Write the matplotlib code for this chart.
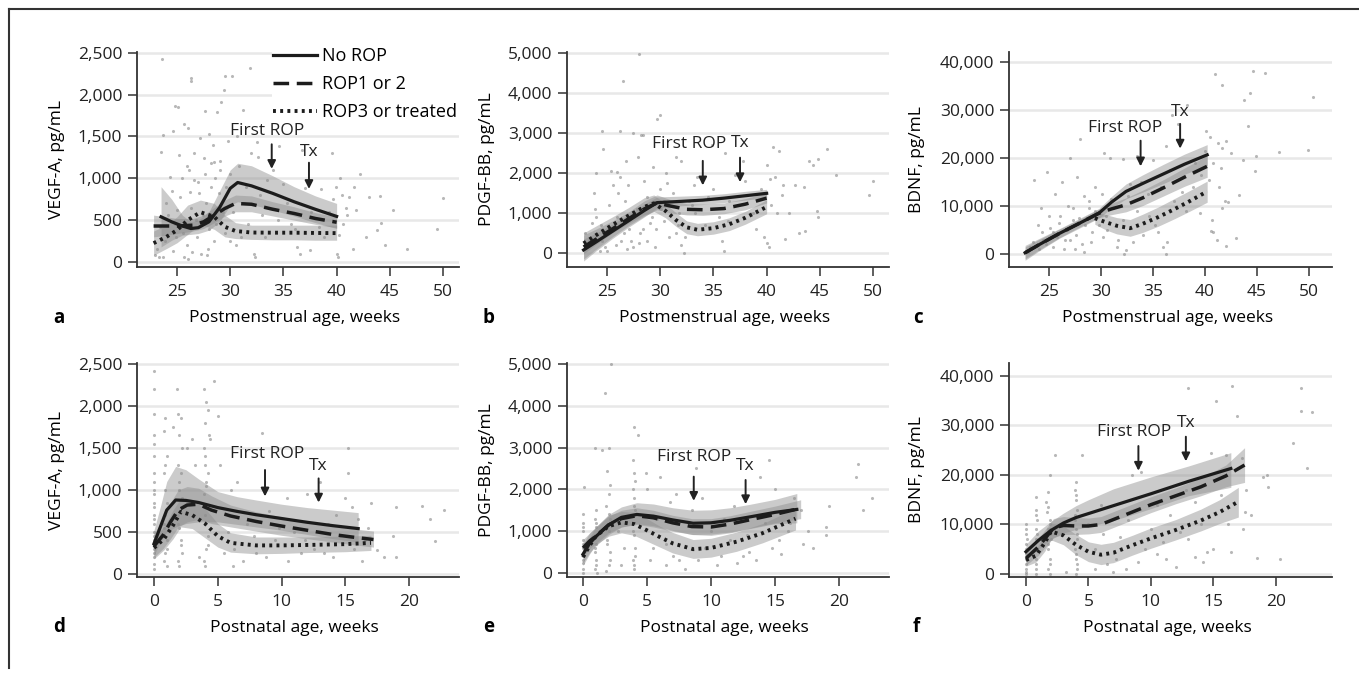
import matplotlib
matplotlib.use('Agg')
import matplotlib.pyplot as plt
from matplotlib.lines import Line2D
from matplotlib.ticker import FuncFormatter

plt.rcParams['font.family'] = ['Open Sans', 'DejaVu Sans']
plt.rcParams['font.size'] = 12.5

# ---- panel a: VEGF-A vs postmenstrual age ----
a_norop_x = [23.5, 24.5, 25.5, 26.3, 27.0, 28.0, 29.0, 30.0, 30.7, 32.0, 34.0, 36.0, 38.0, 40.0]
a_norop_y = [540, 480, 430, 400, 410, 480, 650, 880, 950, 910, 820, 720, 630, 545]
a_norop_lo = [180, 260, 320, 330, 340, 380, 480, 680, 720, 690, 620, 550, 470, 400]
a_norop_hi = [900, 750, 560, 480, 500, 600, 850, 1100, 1180, 1150, 1030, 900, 790, 700]
a_rop12_x = [22.8, 24.0, 25.0, 26.5, 27.5, 28.5, 29.5, 30.5, 32.0, 34.0, 36.0, 38.0, 40.0]
a_rop12_y = [430, 430, 430, 440, 480, 560, 640, 700, 690, 630, 580, 520, 475]
a_rop12_lo = [300, 320, 340, 370, 400, 470, 550, 600, 600, 550, 500, 450, 410]
a_rop12_hi = [560, 540, 520, 520, 560, 650, 740, 800, 790, 720, 660, 590, 540]
a_rop3_x = [22.8, 24.0, 25.0, 26.0, 27.2, 28.5, 29.5, 30.5, 32.0, 34.0, 36.0, 38.0, 40.0]
a_rop3_y = [225, 300, 380, 500, 595, 540, 420, 370, 352, 350, 350, 347, 345]
a_rop3_lo = [80, 160, 230, 330, 450, 390, 300, 280, 270, 265, 265, 260, 260]
a_rop3_hi = [370, 440, 540, 680, 740, 700, 560, 470, 440, 440, 440, 440, 440]
a_pts_x = [23.6, 26.3, 26.3, 29.5, 30.2, 31.9, 29.4, 24.8, 25.1, 29.1, 27.6, 28.8, 31.2, 23.7, 23.5, 25.7,
           26.0, 24.6, 27.2, 28.0, 28.4, 29.8, 30.6, 32.5, 34.6, 36.7, 39.6, 25.2, 26.6, 27.5, 28.2, 29.0,
           26.1, 24.3, 25.5, 27.0, 28.6, 30.0, 31.5, 33.5, 35.0, 37.0, 38.5, 39.9, 40.5, 41.2, 42.2, 43.0,
           44.1, 45.3, 46.6, 49.4, 50.0, 44.2, 44.5, 42.8, 43.8, 41.0, 41.5, 40.2, 40.0, 40.1, 36.3, 36.6,
           37.5, 32.2, 32.3, 30.5, 31.0, 27.3, 27.8, 26.4, 25.7, 23.3, 23.7, 24.6, 28.5, 29.5, 26.8, 24.0,
           25.0, 27.7, 28.9, 26.2, 33.0, 34.5, 35.7, 38.3, 39.3, 32.6, 41.8, 40.6, 22.9, 24.9, 28.0, 25.9,
           23.4, 23.9, 24.2, 24.5, 24.8, 25.3, 25.6, 25.9, 26.3, 26.6, 26.9, 27.1, 27.4, 27.6, 27.9, 28.2,
           28.5, 28.7, 29.0, 29.3, 29.6, 30.0, 30.3, 30.8, 31.3, 31.7, 32.0, 32.8, 33.3, 34.0, 35.3, 36.1,
           37.6, 38.8, 39.7, 40.3, 40.9, 41.6, 23.1, 26.0]
a_pts_y = [2430, 2200, 2160, 2220, 2220, 2320, 2060, 1870, 1850, 1910, 1800, 1790, 1820, 1520, 1320, 1650,
           1600, 1560, 1480, 1530, 1400, 1450, 1500, 1430, 1390, 1340, 1300, 1280, 1300, 1240, 1180, 1210,
           1100, 1020, 1000, 960, 1000, 1050, 900, 980, 930, 880, 870, 900, 800, 780, 1050, 780,
           790, 620, 150, 390, 760, 470, 200, 300, 380, 560, 150, 320, 100, 60, 180, 90,
           140, 100, 60, 200, 300, 100, 80, 120, 60, 60, 60, 130, 250, 350, 500, 700,
           620, 700, 820, 840, 560, 500, 450, 420, 600, 1250, 620, 450, 80, 300, 400, 200,
           420, 250, 560, 850, 450, 780, 350, 1150, 650, 980, 300, 820, 560, 1050, 150, 900,
           1200, 450, 1100, 600, 900, 250, 600, 1150, 700, 450, 1300, 800, 300, 1100, 700, 400,
           600, 300, 750, 1000, 650, 900, 150, 30]

# ---- panel b: PDGF-BB vs postmenstrual age ----
b_norop_x = [22.8, 24.0, 25.5, 27.0, 28.5, 29.7, 32.0, 34.0, 36.0, 38.0, 40.0]
b_norop_y = [75, 280, 540, 800, 1060, 1258, 1290, 1320, 1370, 1430, 1490]
b_norop_lo = [-200, 60, 360, 640, 900, 1120, 1180, 1210, 1260, 1320, 1390]
b_norop_hi = [350, 500, 720, 960, 1220, 1400, 1420, 1440, 1480, 1540, 1590]
b_rop12_x = [22.8, 24.0, 25.5, 27.0, 28.5, 29.7, 31.0, 32.5, 34.0, 36.0, 38.0, 40.0]
b_rop12_y = [150, 350, 600, 850, 1100, 1250, 1170, 1090, 1080, 1110, 1220, 1370]
b_rop12_lo = [-150, 100, 400, 680, 920, 1080, 1000, 950, 940, 980, 1080, 1250]
b_rop12_hi = [450, 600, 800, 1020, 1300, 1450, 1330, 1230, 1220, 1250, 1360, 1500]
b_rop3_x = [22.8, 24.0, 25.5, 27.0, 28.5, 29.4, 30.5, 31.5, 32.5, 33.5, 35.0, 36.5, 38.0, 40.0]
b_rop3_y = [240, 450, 700, 930, 1150, 1240, 1050, 820, 640, 580, 620, 720, 880, 1150]
b_rop3_lo = [-20, 220, 500, 740, 950, 1040, 880, 660, 480, 430, 470, 560, 720, 980]
b_rop3_hi = [500, 680, 900, 1130, 1380, 1450, 1230, 1000, 800, 740, 780, 880, 1040, 1330]
b_pts_x = [28.0, 26.5, 27.4, 26.2, 24.5, 24.6, 25.4, 25.9, 26.8, 29.7, 30.0, 28.4, 28.2, 31.5, 32.0, 29.3,
           27.9, 30.5, 33.5, 36.1, 34.9, 37.8, 40.0, 40.6, 41.2, 40.3, 40.8, 41.5, 42.7, 43.5, 44.0, 44.4,
           44.8, 45.7, 46.5, 49.6, 50.0, 43.6, 43.0, 44.7, 44.8, 41.7, 40.0, 40.2, 42.1, 41.4, 36.4, 36.0,
           35.8, 32.2, 32.0, 31.5, 30.1, 29.0, 28.4, 27.5, 26.6, 25.8, 25.0, 24.5, 23.8, 24.0, 25.2, 26.0,
           27.0, 28.8, 30.4, 31.8, 33.0, 34.2, 35.0, 37.3, 38.7, 39.5, 26.9, 28.0, 29.5, 27.3, 24.3, 23.6,
           22.9, 30.6, 33.2, 37.0,
           23.3, 23.9, 24.4, 24.8, 25.2, 25.6, 25.9, 26.3, 26.7, 27.1, 27.4, 27.8, 28.1, 28.5, 28.8, 29.2,
           29.6, 30.0, 30.4, 30.8, 31.2, 31.7, 32.3, 32.7, 33.3, 34.5, 35.5, 36.5, 38.0, 39.0, 40.4, 41.0,
           39.8, 26.2, 24.0]
b_pts_y = [4980, 4300, 3000, 3050, 3050, 2600, 2050, 2030, 2300, 3350, 3450, 2950, 2950, 2400, 2300, 2150,
           2400, 2000, 1900, 2500, 2700, 2300, 2200, 2650, 2550, 1850, 1900, 1700, 1700, 1650, 2300, 2200,
           2350, 2600, 1950, 1450, 1800, 550, 500, 1050, 900, 350, 250, 150, 1000, 1450, 800, 50,
           300, 0, 200, 500, 1100, 750, 600, 900, 500, 200, 50, 300, 1500, 900, 1200, 1500,
           1700, 1400, 1300, 1000, 1200, 700, 1600, 1200, 1000, 1600, 100, 250, 150, 300, 50, 750,
           500, 1750, 1700, 1950,
           300, 1100, 700, 150, 650, 1700, 900, 300, 1300, 600, 150, 1100, 500, 1800, 300, 900,
           600, 1600, 800, 400, 1500, 700, 400, 1300, 1000, 1400, 900, 1300, 1800, 600, 1200, 1000,
           400, 1900, 2000]

# ---- panel c: BDNF vs postmenstrual age ----
c_norop_x = [22.7, 24.0, 26.0, 28.0, 29.8, 31.0, 32.4, 34.0, 36.0, 38.0, 40.2]
c_norop_y = [270, 1900, 4300, 6500, 8520, 10800, 13050, 14700, 16700, 18700, 20670]
c_norop_lo = [-1300, 600, 3300, 5500, 7500, 9600, 11500, 12900, 14700, 16600, 18500]
c_norop_hi = [1800, 3200, 5300, 7500, 9500, 12000, 14600, 16500, 18700, 20800, 22800]
c_rop12_x = [22.7, 24.0, 26.0, 28.0, 29.8, 31.0, 32.4, 34.0, 36.0, 38.0, 40.2]
c_rop12_y = [270, 1900, 4300, 6500, 8520, 9400, 10260, 11700, 13800, 16000, 18280]
c_rop12_lo = [-1000, 800, 3400, 5700, 7600, 8200, 8800, 10100, 12100, 14100, 16000]
c_rop12_hi = [1500, 3000, 5200, 7300, 9400, 10600, 11700, 13300, 15500, 17900, 20500]
c_rop3_x = [29.4, 30.5, 31.5, 32.8, 34.0, 35.5, 37.0, 38.5, 40.2]
c_rop3_y = [7470, 6600, 5900, 5380, 6300, 7700, 9300, 11000, 13050]
c_rop3_lo = [6200, 5000, 4200, 3700, 4500, 5800, 7300, 8900, 10800]
c_rop3_hi = [8800, 8200, 7600, 7200, 8300, 9800, 11500, 13200, 15200]
c_pts_x = [41.0, 41.6, 44.6, 45.8, 50.4, 43.7, 44.3, 44.1, 43.6, 44.9, 44.8, 47.1, 49.9, 43.3, 43.0, 42.0,
           40.7, 40.8, 40.6, 41.1, 41.6, 41.9, 42.2, 40.1, 40.5, 41.2, 41.6, 42.0, 42.5, 40.8, 41.5, 36.8,
           37.4, 38.3, 36.2, 35.0, 33.5, 32.1, 30.3, 30.9, 27.0, 28.0, 24.8, 23.6, 26.2, 27.7, 25.6, 26.8,
           28.4, 29.4, 24.2, 25.0, 23.9, 25.4, 26.5, 27.5, 28.4, 29.0, 30.2, 31.5, 32.2, 32.4, 36.2, 36.0,
           36.3, 35.5, 35.2, 34.0, 33.5, 34.5, 37.0, 38.2, 39.5, 23.2, 24.4, 26.0, 27.3, 28.8, 31.0, 32.8,
           30.5, 38.8, 39.6,
           23.0, 23.5, 24.0, 24.3, 24.7, 25.1, 25.4, 25.8, 26.1, 26.4, 26.7, 27.0, 27.3, 27.6, 27.9, 28.2,
           28.5, 28.8, 29.1, 29.4, 29.8, 30.1, 30.6, 31.1, 31.6, 32.1, 32.6, 33.1, 33.8, 34.6, 35.8, 36.6,
           37.8, 39.0, 40.0, 41.3, 40.4]
c_pts_y = [37600, 35200, 38200, 37800, 32700, 32000, 33500, 26700, 19500, 20500, 17300, 21200, 21600, 12200, 3300, 1600,
           7000, 4500, 4800, 3000, 9500, 11000, 10800, 25600, 24300, 23200, 22000, 23500, 21000, 19000, 18000, 29000,
           27000, 31000, 22500, 19500, 20500, 19800, 21000, 20000, 20000, 24000, 17000, 15500, 15000, 16000, 12500, 10000,
           12000, 14000, 9500, 8000, 6000, 4500, 3000, 1000, 500, 2500, 3500, 1500, 0, 800, 0, 1500,
           2500, 4500, 6000, 4000, 9000, 12500, 11000, 9000, 8500, 1500, 3000, 6500, 7000, 9500, 11500, 14500,
           8000, 14000, 16500,
           500, 2500, 1000, 4500, 2000, 5500, 1500, 3500, 8000, 1000, 5000, 3000, 9500, 4000, 7500, 2000,
           6000, 11000, 4500, 9000, 6000, 12500, 5000, 9500, 3000, 7000, 12000, 2500, 15000, 8000, 14000, 17500,
           13000, 19000, 21500, 14000, 15500]

# ---- panel d: VEGF-A vs postnatal age ----
d_norop_x = [0.0, 0.5, 1.0, 1.7, 2.5, 3.5, 5.0, 6.5, 8.0, 10.0, 12.0, 14.0, 16.0]
d_norop_y = [360, 560, 760, 880, 875, 850, 790, 745, 705, 660, 615, 575, 540]
d_norop_lo = [220, 380, 500, 560, 600, 620, 620, 590, 560, 520, 470, 420, 380]
d_norop_hi = [520, 800, 1100, 1280, 1240, 1130, 980, 920, 880, 830, 790, 760, 730]
d_rop12_x = [0.0, 0.7, 1.3, 1.9, 2.6, 3.5, 4.5, 6.0, 8.0, 10.0, 12.0, 14.0, 15.5, 17.2]
d_rop12_y = [330, 460, 620, 760, 820, 830, 760, 690, 625, 570, 520, 470, 440, 410]
d_rop12_lo = [200, 300, 420, 560, 620, 650, 600, 560, 510, 460, 420, 380, 350, 320]
d_rop12_hi = [480, 640, 850, 1000, 1040, 1020, 930, 820, 740, 680, 620, 570, 540, 510]
d_rop3_x = [0.0, 0.8, 1.5, 2.1, 3.0, 4.0, 5.0, 6.0, 8.0, 10.0, 12.0, 15.0, 17.0]
d_rop3_y = [310, 420, 580, 740, 700, 600, 450, 370, 340, 340, 345, 355, 370]
d_rop3_lo = [180, 290, 420, 560, 540, 430, 320, 260, 240, 245, 255, 265, 280]
d_rop3_hi = [450, 560, 760, 900, 880, 780, 600, 490, 440, 440, 440, 450, 460]
d_pts_x = [0, 0, 0, 0, 0, 0, 0, 0, 0, 0, 0, 0, 0, 0, 0, 0, 0, 0,
           0.9, 0.8, 1.0, 0.8, 0.9, 1.0, 0.9, 0.8, 1.0, 0.9, 0.8, 1.0,
           1.8, 1.9, 2.1, 2.0, 2.2, 1.9, 2.1, 2.0, 2.2, 1.9, 2.0, 2.1, 2.2, 1.9, 2.0,
           3.9, 4.1, 4.2, 4.0, 4.3, 3.9, 4.0, 4.2, 4.1, 3.9, 4.0, 4.2, 4.1, 3.9, 4.0,
           4.7, 5.0, 4.4, 1.5, 2.6, 3.2, 6.0, 7.3, 8.5, 9.0, 9.5, 10.4, 11.0, 12.0, 12.5, 13.0,
           13.6, 14.0, 14.6, 15.2, 15.2, 15.0, 15.5, 16.0, 16.5, 16.3, 17.0, 17.5, 18.0, 18.7, 19.0, 19.0,
           21.0, 21.6, 22.0, 22.7, 7.0, 8.0, 10.5, 11.5, 6.5, 3.0, 5.5, 6.2,
           0, 0, 0, 0, 0, 0, 0.9, 0.8, 1.0, 2.0, 2.1, 1.9, 2.1, 4.0, 4.1, 3.9, 4.0, 4.2,
           5.8, 6.3, 7.8, 8.8, 9.8, 11.8, 13.3, 14.3, 15.7, 16.8, 5.2, 3.5]
d_pts_y = [2420, 2200, 1900, 1650, 1550, 1400, 1200, 1100, 950, 800, 700, 600, 500, 400, 300, 200, 120, 60,
           1850, 1700, 1400, 1200, 1000, 850, 700, 550, 400, 250, 150, 100,
           2200, 1900, 1850, 1650, 1500, 1300, 1200, 1100, 900, 700, 550, 400, 250, 150, 100,
           2200, 2050, 1950, 1800, 1650, 1500, 1300, 1200, 1050, 800, 600, 450, 300, 150, 100,
           2300, 1880, 1600, 1750, 1500, 1300, 1000, 600, 1680, 750, 400, 900, 500, 950, 300, 1100,
           600, 200, 450, 1500, 1200, 900, 800, 650, 400, 150, 850, 280, 200, 450, 800, 200,
           810, 650, 390, 760, 150, 250, 150, 250, 1100, 1600, 250, 100,
           1000, 850, 650, 450, 350, 250, 1300, 600, 300, 1000, 800, 600, 350, 1400, 1100, 950, 700, 350,
           500, 300, 450, 200, 550, 400, 250, 700, 300, 550, 1300, 200]

# ---- panel e: PDGF-BB vs postnatal age ----
e_norop_x = [0.0, 0.5, 1.0, 2.0, 3.0, 4.2, 5.5, 7.0, 8.6, 10.0, 11.5, 13.0, 15.0, 16.7]
e_norop_y = [450, 700, 870, 1150, 1330, 1400, 1360, 1270, 1190, 1200, 1260, 1340, 1450, 1520]
e_norop_lo = [250, 480, 650, 920, 1100, 1160, 1100, 1000, 920, 930, 980, 1060, 1180, 1200]
e_norop_hi = [700, 950, 1100, 1400, 1580, 1680, 1650, 1560, 1500, 1510, 1560, 1640, 1760, 1900]
e_rop12_x = [0.0, 0.5, 1.0, 2.0, 3.0, 4.2, 5.5, 7.0, 8.5, 10.0, 11.5, 13.0, 15.0, 17.0]
e_rop12_y = [600, 760, 880, 1150, 1300, 1370, 1320, 1200, 1110, 1100, 1170, 1270, 1400, 1550]
e_rop12_lo = [400, 580, 700, 960, 1100, 1180, 1130, 1020, 920, 900, 960, 1070, 1200, 1300]
e_rop12_hi = [800, 950, 1080, 1360, 1500, 1560, 1500, 1380, 1300, 1300, 1370, 1470, 1600, 1750]
e_rop3_x = [0.0, 0.5, 1.0, 2.0, 3.0, 4.0, 5.0, 6.0, 7.0, 8.6, 10.0, 12.0, 14.0, 16.6]
e_rop3_y = [380, 650, 880, 1120, 1210, 1170, 1020, 860, 710, 570, 600, 750, 950, 1300]
e_rop3_lo = [180, 450, 680, 880, 960, 900, 760, 620, 480, 350, 380, 520, 720, 1030]
e_rop3_hi = [600, 850, 1100, 1380, 1470, 1450, 1300, 1120, 970, 800, 830, 980, 1180, 1550]
e_pts_x = [0, 0, 0, 0, 0, 0, 0, 0, 0, 0.1,
           0.9, 1.0, 0.9, 1.0, 0.9, 1.0, 0.9, 1.0, 0.9, 1.1,
           1.7, 2.2, 1.5, 2.0, 1.9, 2.1, 2.0, 1.8, 2.1, 2.0, 1.9, 2.1, 2.0, 1.8,
           4.0, 4.3, 3.9, 4.0, 4.1, 3.9, 4.0, 4.1, 3.9, 4.0, 4.1, 3.9, 4.0,
           4.9, 5.0, 6.0, 7.3, 8.8, 9.3, 10.0, 10.5, 11.0, 11.5, 12.0, 12.5, 13.0, 13.8, 14.5, 15.0,
           14.8, 15.5, 16.0, 16.5, 17.0, 17.6, 18.0, 19.0, 19.0, 19.2, 21.3, 21.5, 21.9, 22.6,
           6.5, 7.0, 8.0, 9.0, 5.5, 3.0, 2.7, 6.8,
           0, 0, 0, 1.0, 0.9, 1.0, 2.0, 1.9, 2.1, 4.0, 3.9, 4.1, 4.0,
           5.8, 6.5, 7.5, 8.5, 9.5, 10.8, 11.8, 12.8, 13.5, 14.2, 15.3, 16.2, 17.2, 3.2, 5.2]
e_pts_y = [1400, 1200, 1000, 800, 600, 400, 250, 100, 0, 2050,
           3000, 1500, 1300, 1100, 900, 700, 500, 300, 100, 0,
           4300, 5000, 2950, 3000, 2450, 2100, 1900, 1600, 1300, 1000, 700, 500, 200, 50,
           3500, 3300, 2700, 2400, 2200, 2000, 1800, 1500, 1200, 900, 600, 300, 100,
           2400, 2000, 2300, 1900, 2500, 1800, 1000, 200, 1300, 800, 250, 400, 500, 2300, 2700, 2000,
           600, 450, 1000, 1800, 1500, 1000, 600, 1100, 900, 1600, 2300, 2600, 1500, 1800,
           200, 400, 100, 300, 600, 200, 1000, 1700,
           1100, 700, 300, 1200, 600, 200, 1400, 800, 300, 1600, 1000, 400, 200,
           1300, 700, 300, 1500, 600, 400, 1600, 900, 300, 1200, 800, 1200, 700, 600, 300]

# ---- panel f: BDNF vs postnatal age ----
f_norop_x = [0.0, 1.0, 2.0, 3.0, 4.0, 5.0, 7.0, 10.0, 13.0, 16.4]
f_norop_y = [4500, 6800, 8800, 10300, 11400, 12200, 13800, 16200, 18700, 21300]
f_norop_lo = [3000, 5000, 7000, 8300, 9000, 9600, 10800, 13200, 15800, 17500]
f_norop_hi = [6000, 8700, 10600, 12300, 13800, 15000, 17200, 19600, 21800, 24500]
f_rop12_x = [0.0, 1.0, 2.2, 3.0, 4.0, 5.0, 6.0, 8.0, 10.0, 12.0, 14.0, 16.0, 17.5]
f_rop12_y = [3170, 5500, 9300, 9800, 9700, 9700, 10000, 12000, 14000, 15800, 17600, 19800, 22000]
f_rop12_lo = [1800, 3800, 7400, 8000, 8000, 8100, 8400, 10400, 12400, 14200, 15800, 17600, 18500]
f_rop12_hi = [4500, 7200, 11200, 11600, 11400, 11300, 11600, 13600, 15600, 17400, 19400, 22000, 25500]
f_rop3_x = [0.0, 0.8, 1.5, 2.0, 3.0, 4.0, 5.0, 6.0, 7.0, 8.5, 10.0, 12.0, 14.0, 15.5, 17.0]
f_rop3_y = [2830, 3700, 6300, 8600, 7800, 5900, 4500, 3900, 4300, 5800, 7200, 8900, 10800, 12500, 14600]
f_rop3_lo = [1600, 2400, 4600, 6900, 5900, 3900, 2500, 1900, 2300, 3800, 5200, 6900, 8700, 10200, 11500]
f_rop3_hi = [4000, 5000, 8000, 10300, 9700, 8000, 6500, 6000, 6400, 7800, 9300, 11000, 13100, 15000, 17500]
f_pts_x = [0, 0, 0, 0, 0, 0, 0, 0.1, 0,
           0.8, 0.8, 0.9, 0.8, 0.8, 0.9, 0.8, 0.8, 0.8,
           1.6, 1.9, 1.8, 1.7, 1.9, 1.8, 2.0, 1.8, 1.9, 1.8, 1.9, 2.3,
           4.0, 3.9, 4.0, 4.1, 3.9, 4.0, 4.1, 3.9, 4.0, 4.1, 4.0, 4.5,
           6.0, 7.5, 8.5, 9.2, 10.0, 10.5, 11.0, 12.0, 12.8, 13.0, 13.0, 13.5, 14.0, 14.5, 15.0, 15.2,
           16.0, 16.5, 16.9, 17.3, 17.5, 17.4, 18.0, 18.5, 19.0, 19.3, 19.4, 20.3, 21.4, 22.0, 22.0, 22.5,
           22.9, 5.5, 6.5, 7.0, 8.0, 9.0, 11.5, 16.4, 14.8, 5.0,
           0, 0, 0, 0.8, 0.9, 0.8, 1.8, 1.9, 1.8, 1.9, 4.0, 3.9, 4.1, 4.0, 4.1,
           6.2, 7.2, 8.2, 9.5, 10.5, 11.2, 12.3, 13.5, 14.2, 15.6, 16.2, 17.0, 17.6, 3.2, 5.5]
f_pts_y = [10000, 8000, 6000, 4000, 2000, 500, 0, 7000, 3000,
           15500, 13000, 11000, 9000, 7000, 5000, 3000, 1000, 0,
           14500, 20000, 16500, 12500, 11000, 9000, 7000, 5000, 3000, 1000, 0, 24000,
           18500, 17000, 15000, 13000, 11000, 9000, 7000, 5000, 3000, 1000, 0, 24000,
           14000, 7500, 20000, 20500, 9000, 4000, 6500, 1500, 17000, 37500, 7000, 3500, 10000, 4500, 5000, 35000,
           24000, 38000, 32000, 23500, 12500, 9000, 12000, 3200, 19500, 20000, 17500, 3000, 26500, 33000, 37500, 21500,
           32700, 1000, 2000, 500, 1000, 2500, 12000, 4500, 24500, 10000,
           9000, 5000, 1000, 12000, 8000, 2000, 13500, 10000, 6000, 2000, 16000, 12000, 8000, 4000, 2000,
           8000, 3000, 11000, 5000, 14000, 3000, 8500, 14500, 2500, 16000, 10000, 21500, 17000, 500, 5000]

ylabels = ['VEGF-A, pg/mL', 'PDGF-BB, pg/mL', 'BDNF, pg/mL']
letters = ['a', 'b', 'c', 'd', 'e', 'f']

W, H = 1359, 674
fig = plt.figure(figsize=(W / 100, H / 100), dpi=100)

def px_axes(l, r, t, b):
    return fig.add_axes([l / W, 1 - b / H, (r - l) / W, (b - t) / H])

col_px = [(137, 459), (567, 889), (1009, 1332)]
row_px = [(52, 267), (363, 577)]

panels = [
    (a_norop_x, a_norop_y, a_norop_lo, a_norop_hi, a_rop12_x, a_rop12_y, a_rop12_lo, a_rop12_hi,
     a_rop3_x, a_rop3_y, a_rop3_lo, a_rop3_hi, a_pts_x, a_pts_y),
    (b_norop_x, b_norop_y, b_norop_lo, b_norop_hi, b_rop12_x, b_rop12_y, b_rop12_lo, b_rop12_hi,
     b_rop3_x, b_rop3_y, b_rop3_lo, b_rop3_hi, b_pts_x, b_pts_y),
    (c_norop_x, c_norop_y, c_norop_lo, c_norop_hi, c_rop12_x, c_rop12_y, c_rop12_lo, c_rop12_hi,
     c_rop3_x, c_rop3_y, c_rop3_lo, c_rop3_hi, c_pts_x, c_pts_y),
    (d_norop_x, d_norop_y, d_norop_lo, d_norop_hi, d_rop12_x, d_rop12_y, d_rop12_lo, d_rop12_hi,
     d_rop3_x, d_rop3_y, d_rop3_lo, d_rop3_hi, d_pts_x, d_pts_y),
    (e_norop_x, e_norop_y, e_norop_lo, e_norop_hi, e_rop12_x, e_rop12_y, e_rop12_lo, e_rop12_hi,
     e_rop3_x, e_rop3_y, e_rop3_lo, e_rop3_hi, e_pts_x, e_pts_y),
    (f_norop_x, f_norop_y, f_norop_lo, f_norop_hi, f_rop12_x, f_rop12_y, f_rop12_lo, f_rop12_hi,
     f_rop3_x, f_rop3_y, f_rop3_lo, f_rop3_hi, f_pts_x, f_pts_y),
]

xlims = [(21.24, 51.5), (21.24, 51.5), (21.15, 52.2), (-1.33, 23.9), (-1.25, 23.9), (-1.36, 24.5)]
ylims = [(-60, 2510), (-350, 5020), (-2700, 42100), (-36, 2510), (-95, 5020), (-600, 42600)]
yticks = [range(0, 2501, 500), range(0, 5001, 1000), range(0, 40001, 10000)]
# annotation positions (x, text y, arrow start y, arrow tip y)
first_rop = [(33.9, 1570, 1440, 1080), (34.0, 2717, 2370, 1620), (33.8, 26200, 24200, 17700),
             (8.7, 1430, 1270, 890), (8.65, 2770, 2370, 1660), (9.0, 28600, 26400, 20300)]
first_rop_tx = [33.5, 32.7, 32.3, 8.86, 8.65, 8.64]
tx = [(37.4, 1320, 1220, 840), (37.5, 2742, 2450, 1700), (37.6, 29600, 27700, 21400),
      (12.9, 1280, 1170, 817), (12.7, 2570, 2290, 1580), (12.8, 30440, 28280, 22200)]

line_col = '#1c1c1c'
band_col = '#8c8c8c'
fmt = FuncFormatter(lambda v, p: f'{int(v):,}')

for i, p in enumerate(panels):
    r, c = divmod(i, 3)
    ax = px_axes(col_px[c][0], col_px[c][1], row_px[r][0], row_px[r][1])
    (nx, ny, nlo, nhi, dx, dy, dlo, dhi, tx_, ty, tlo, thi, sx, sy) = p

    ax.scatter(sx, sy, s=5, color='#8a8a8a', alpha=0.6, linewidths=0, zorder=1)
    ax.fill_between(nx, nlo, nhi, color=band_col, alpha=0.45, lw=0, zorder=2)
    ax.fill_between(dx, dlo, dhi, color=band_col, alpha=0.45, lw=0, zorder=2)
    ax.fill_between(tx_, tlo, thi, color=band_col, alpha=0.45, lw=0, zorder=2)
    l1, = ax.plot(nx, ny, color=line_col, lw=2.3, zorder=4)
    l2, = ax.plot(dx, dy, color=line_col, lw=2.5, ls=(0, (4.5, 2.2)), zorder=4)
    l3, = ax.plot(tx_, ty, color=line_col, lw=2.8, ls=(0, (0.75, 1.1)), zorder=4)

    ax.set_xlim(*xlims[i])
    ax.set_ylim(*ylims[i])
    ax.set_yticks(list(yticks[c]))
    if r == 0:
        ax.set_xticks([25, 30, 35, 40, 45, 50])
        ax.set_xlabel('Postmenstrual age, weeks')
    else:
        ax.set_xticks([0, 5, 10, 15, 20])
        ax.set_xlabel('Postnatal age, weeks')
    ax.yaxis.set_major_formatter(fmt)
    ax.set_ylabel(ylabels[c])
    ax.yaxis.set_label_coords(-0.224 if c < 2 else -0.26, 0.5)
    ax.xaxis.set_label_coords(0.49, -0.2)

    ax.yaxis.grid(True, color='#e8e8e8', lw=1.8)
    ax.set_axisbelow(True)
    for s in ['top', 'right']:
        ax.spines[s].set_visible(False)
    for s in ['left', 'bottom']:
        ax.spines[s].set_color('#333333')
        ax.spines[s].set_linewidth(1.3)
    ax.tick_params(length=6.5, width=1.1, color='#333333', pad=4, labelsize=12.5, labelcolor='#222222')
    ax.tick_params(axis='x', pad=6)

    fx, fty, fy0, fy1 = first_rop[i]
    ax.text(first_rop_tx[i], fty, 'First ROP', ha='center', va='center', fontsize=12.5, color='#222222', zorder=6)
    ax.annotate('', xy=(fx, fy1), xytext=(fx, fy0),
                arrowprops=dict(arrowstyle='-|>', color='#222222', lw=1.4, mutation_scale=12), zorder=6)
    tx0, tty, ty0, ty1 = tx[i]
    ax.text(tx0, tty, 'Tx', ha='center', va='center', fontsize=12.5, color='#222222', zorder=6)
    ax.annotate('', xy=(tx0, ty1), xytext=(tx0, ty0),
                arrowprops=dict(arrowstyle='-|>', color='#222222', lw=1.4, mutation_scale=12), zorder=6)

    lx = [53, 483, 913][c] / W
    ly = 1 - [318, 627][r] / H
    fig.text(lx, ly, letters[i], fontsize=13.5, fontweight='bold', ha='left', va='center')

    if i == 0:
        leg = ax.legend([l1, l2, l3], ['No ROP', 'ROP1 or 2', 'ROP3 or treated'],
                        loc='upper right', bbox_to_anchor=(1.0, 1.03), frameon=True, fancybox=False,
                        framealpha=1, edgecolor='none', facecolor='white', fontsize=13,
                        handlelength=2.4, handletextpad=0.3, labelspacing=0.55, borderpad=0.1,
                        borderaxespad=0)
        leg.set_zorder(7)

# partial frame (top and left)
fig.add_artist(Line2D([9 / W, 1], [1 - 9 / H, 1 - 9 / H], transform=fig.transFigure, color='#333333', lw=1.5))
fig.add_artist(Line2D([9 / W, 9 / W], [1 - 9 / H, 1 - 668 / H], transform=fig.transFigure, color='#333333', lw=1.5))

fig.savefig('out.png', dpi=100)
